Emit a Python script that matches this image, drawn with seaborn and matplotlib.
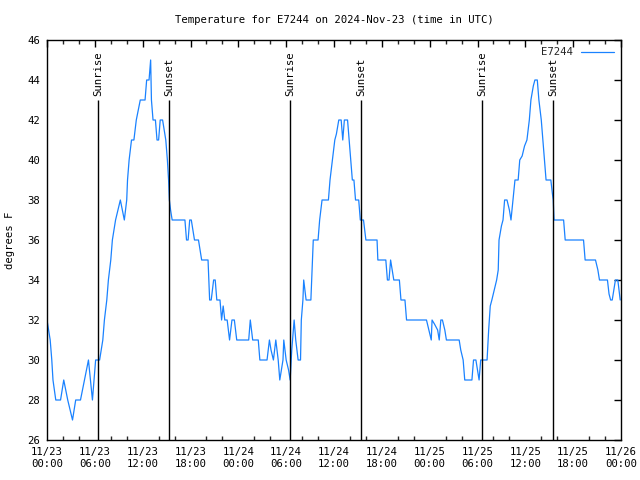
import pandas as pd
import matplotlib
matplotlib.use("Agg")
from matplotlib import pyplot as plt
import matplotlib.dates as mdates
import seaborn as sns

# hours since 2024-11-23 00:00 UTC, temperature in F
hours = [
    0.0, 0.4, 0.6, 0.75, 1.1, 1.7, 2.1, 2.6, 3.2, 3.6, 4.2, 4.7, 5.2, 5.7, 6.1, 6.6,
    7.0, 7.2, 7.5, 7.7, 8.0, 8.2, 8.6, 9.2, 9.7, 10.0, 10.1, 10.3, 10.6, 10.9, 11.2,
    11.7, 12.3, 12.5, 12.8, 13.0, 13.1, 13.3, 13.6, 13.8, 14.0, 14.2, 14.5, 14.9,
    15.1, 15.25, 15.35, 15.5, 15.7, 17.3, 17.5, 17.7, 17.9, 18.1, 18.5, 19.0, 19.4,
    20.2, 20.4, 20.6, 20.9, 21.1, 21.3, 21.7, 21.9, 22.1, 22.3, 22.6, 22.9, 23.2,
    23.5, 23.8, 25.3, 25.5, 25.8, 26.5, 26.7, 27.6, 27.9, 28.1, 28.4, 28.7, 29.0,
    29.2, 29.6, 29.7, 30.0, 30.3, 30.5, 30.7, 31.0, 31.2, 31.5, 31.8, 31.9, 32.1,
    32.2, 32.5, 33.1, 33.2, 33.4, 34.0, 34.2, 34.5, 35.3, 35.5, 35.8, 36.1, 36.3,
    36.6, 36.9, 37.1, 37.3, 37.7, 37.9, 38.1, 38.3, 38.5, 38.7, 39.1, 39.3, 39.7,
    40.0, 41.4, 41.5, 42.5, 42.7, 42.9, 43.1, 43.3, 43.5, 44.2, 44.4, 44.9, 45.1,
    47.6, 47.9, 48.2, 48.3, 48.6, 49.0, 49.2, 49.4, 49.6, 49.9, 50.1, 51.7, 51.9,
    52.2, 52.4, 53.3, 53.5, 53.8, 54.0, 54.2, 54.4, 55.2, 55.4, 55.6, 55.8, 56.1,
    56.4, 56.6, 56.7, 57.0, 57.2, 57.4, 57.7, 58.0, 58.2, 58.4, 58.7, 59.1, 59.3,
    59.6, 59.9, 60.2, 60.5, 60.7, 61.0, 61.2, 61.5, 61.7, 62.0, 62.2, 62.4, 62.6,
    63.2, 63.4, 63.5, 63.6, 64.8, 65.0, 65.3, 67.3, 67.5, 68.8, 69.1, 69.3, 70.3,
    70.5, 70.7, 70.9, 71.1, 71.3, 71.6, 71.75, 71.9,
]
temps = [
    32, 31, 30, 29, 28, 28, 29, 28, 27, 28, 28, 29, 30, 28, 30, 30,
    31, 32, 33, 34, 35, 36, 37, 38, 37, 38, 39, 40, 41, 41, 42,
    43, 43, 44, 44, 45, 43, 42, 42, 41, 41, 42, 42, 41,
    40, 39, 38, 37.5, 37, 37, 36, 36, 37, 37, 36, 36, 35,
    35, 33, 33, 34, 34, 33, 33, 32, 32.7, 32, 32, 31, 32,
    32, 31, 31, 32, 31, 31, 30, 30, 31, 30.5, 30, 31, 30,
    29, 30, 31, 30, 29.5, 29, 30.5, 32, 31, 30, 30, 32, 33,
    34, 33, 33, 34, 36, 36, 37, 38, 38, 39, 40, 41, 41.3,
    42, 42, 41, 42, 42, 41, 40, 39, 39, 38, 38, 37, 37,
    36, 36, 35, 35, 34, 34, 35, 34.5, 34, 34, 33, 33, 32,
    32, 31.5, 31, 32, 31.8, 31.5, 31, 32, 32, 31.5, 31, 31, 30.5,
    30, 29, 29, 30, 30, 29.5, 29, 30, 30, 31.5, 32.7, 33, 33.5,
    34, 34.5, 36, 36.7, 37, 38, 38, 37.5, 37, 37.8, 39, 39, 40,
    40.2, 40.7, 41, 42, 43, 43.7, 44, 44, 43, 42, 41, 40, 39,
    39, 38.3, 38, 37, 37, 36, 36, 36, 35, 35, 34.5, 34, 34,
    33.3, 33, 33, 33.5, 34, 34, 33.5, 33,
]
sunrise_hours = [6.44, 30.48, 54.56]
sunset_hours = [15.35, 39.39, 63.51]

start = pd.Timestamp("2024-11-23 00:00")
df = pd.DataFrame({"time": start + pd.to_timedelta(hours, unit="h"), "temp": temps})

sns.set_theme(style="white")
plt.rcParams["font.family"] = ["DejaVu Sans Mono"]
fs = 7.7

fig = plt.figure(figsize=(6.4, 4.8), dpi=100)
ax = fig.add_axes([47 / 640, 40 / 480, 574 / 640, 400 / 480])

sns.lineplot(data=df, x="time", y="temp", sort=False, estimator=None,
             color="#1a82ff", linewidth=0.9, label="E7244", ax=ax)

for h in sunrise_hours:
    t = start + pd.Timedelta(hours=h)
    ax.vlines(t, 26, 43, color="black", linewidth=1)
    ax.text(t, 43.2, "Sunrise", rotation=90, ha="center", va="bottom",
            color="black", fontsize=fs)
for h in sunset_hours:
    t = start + pd.Timedelta(hours=h)
    ax.vlines(t, 26, 43, color="black", linewidth=1)
    ax.text(t, 43.2, "Sunset", rotation=90, ha="center", va="bottom",
            color="black", fontsize=fs)

ax.set_xlim(start, start + pd.Timedelta(hours=72))
ax.set_ylim(26, 46)
ax.set_yticks(range(26, 47, 2))
ax.xaxis.set_major_locator(mdates.HourLocator(byhour=[0, 6, 12, 18]))
ax.xaxis.set_minor_locator(mdates.HourLocator(byhour=range(0, 24, 2)))
ax.xaxis.set_major_formatter(mdates.DateFormatter("%m/%d\n%H:%M"))

ax.tick_params(axis="both", which="major", direction="in", length=5, width=1,
               top=True, right=True, colors="black", labelsize=fs, pad=5)
ax.tick_params(axis="x", which="minor", direction="in", length=3, width=1,
               top=True, bottom=True)
for s in ax.spines.values():
    s.set_color("black")
    s.set_linewidth(1)

ax.set_xlabel("")
ax.set_ylabel("degrees F", color="black", fontsize=fs, labelpad=9)
ax.set_title("Temperature for E7244 on 2024-Nov-23 (time in UTC)",
             color="black", fontsize=fs, pad=12)

ax.legend(loc="upper right", frameon=False, markerfirst=False, fontsize=fs,
          handlelength=3.0, borderaxespad=0.3)

fig.savefig("out.png", dpi=100)
